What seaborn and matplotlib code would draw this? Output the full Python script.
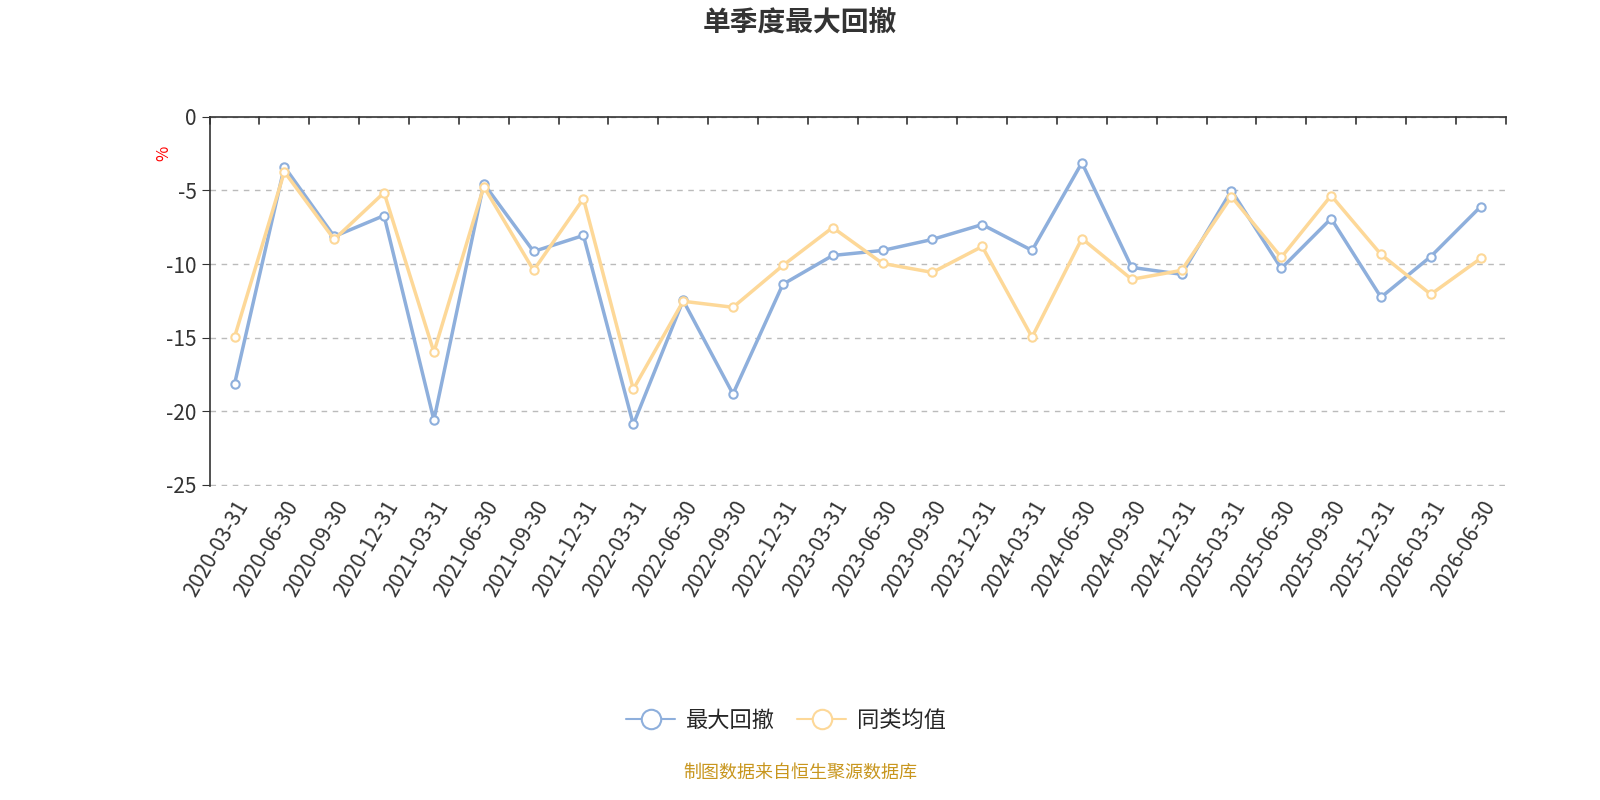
import numpy as np
import pandas as pd
import matplotlib.pyplot as plt
import seaborn as sns
from matplotlib.lines import Line2D

dates = ["2020-03-31", "2020-06-30", "2020-09-30", "2020-12-31",
         "2021-03-31", "2021-06-30", "2021-09-30", "2021-12-31",
         "2022-03-31", "2022-06-30", "2022-09-30", "2022-12-31",
         "2023-03-31", "2023-06-30", "2023-09-30", "2023-12-31",
         "2024-03-31", "2024-06-30", "2024-09-30", "2024-12-31",
         "2025-03-31", "2025-06-30", "2025-09-30", "2025-12-31",
         "2026-03-31", "2026-06-30"]
max_dd = [-18.16, -3.39, -8.13, -6.71, -20.6, -4.54, -9.15, -8.06,
          -20.9, -12.47, -18.83, -11.38, -9.42, -9.08, -8.33, -7.32,
          -9.08, -3.12, -10.23, -10.7, -5.01, -10.3, -6.91, -12.26,
          -9.49, -6.10]
peer_avg = [-14.97, -3.73, -8.33, -5.15, -15.99, -4.74, -10.43, -5.56,
            -18.5, -12.53, -12.94, -10.1, -7.52, -9.96, -10.57, -8.81,
            -14.97, -8.27, -11.04, -10.43, -5.42, -9.55, -5.35, -9.35,
            -12.06, -9.62]

sns.set_style("white")
plt.rcParams["font.family"] = ["Noto Sans CJK SC", "DejaVu Sans"]

BLUE = "#8eafdc"
YELLOW = "#fdd898"

df = pd.DataFrame({"date": dates * 2,
                   "value": max_dd + peer_avg,
                   "series": ["最大回撤"] * len(dates) + ["同类均值"] * len(dates)})
df["x"] = list(range(len(dates))) * 2

fig = plt.figure(figsize=(16, 8), dpi=100)
ax = fig.add_axes([0.131, 0.3925, 0.81, 0.4615])

for name, color in [("最大回撤", BLUE), ("同类均值", YELLOW)]:
    sub = df[df["series"] == name]
    sns.lineplot(data=sub, x="x", y="value", ax=ax, color=color, linewidth=2.5,
                 marker="o", markersize=6, markerfacecolor="white",
                 markeredgecolor=color, markeredgewidth=1.5, legend=False)

ax.set_xlim(-0.5, len(dates) - 0.5)
ax.set_ylim(-25.08, 0)
ax.set_yticks([0, -5, -10, -15, -20, -25])
ax.set_yticklabels(["0", "-5", "-10", "-15", "-20", "-25"], fontsize=15, color="#333333")
ax.yaxis.grid(True, linestyle=(0, (4, 4)), color="#bbbbbb", linewidth=1)
ax.set_xticks(range(len(dates)))
ax.set_xticklabels(dates, rotation=60, ha="right", rotation_mode="anchor",
                   fontsize=15, color="#333333")
ax.tick_params(axis="x", length=0, pad=8)
ax.tick_params(axis="y", left=True, length=6, color="#333333")
ax.set_xlabel("")
ax.set_ylabel("")

for s in ["bottom", "right"]:
    ax.spines[s].set_visible(False)
for s in ["top", "left"]:
    ax.spines[s].set_color("#333333")
    ax.spines[s].set_linewidth(1.2)
# boundary tick marks on top axis line
for b in np.arange(-0.5, len(dates), 1.0):
    ax.plot([b, b], [0, -0.5], color="#333333", linewidth=1.2, clip_on=False)

ax.text(-0.035, 0.9, "%", transform=ax.transAxes, color="red", fontsize=12,
        rotation=90, ha="center", va="center")

handles = [Line2D([], [], color=c, linewidth=1.5, marker="o", markersize=14,
                  markerfacecolor="white", markeredgecolor=c, markeredgewidth=1.5)
           for c in (BLUE, YELLOW)]
ax.legend(handles, ["最大回撤", "同类均值"], loc="upper center",
          bbox_to_anchor=(0.445, -0.55), ncol=2, frameon=False,
          fontsize=16, handlelength=2.2, columnspacing=1.0, handletextpad=0.5)

fig.text(0.5, 0.972, "单季度最大回撤", ha="center", va="center", fontsize=20,
         fontweight="bold", color="#333333")
fig.text(0.5, 0.034, "制图数据来自恒生聚源数据库", ha="center", va="center",
         fontsize=13, color="#c8961e")

fig.savefig("out.png", dpi=100)
